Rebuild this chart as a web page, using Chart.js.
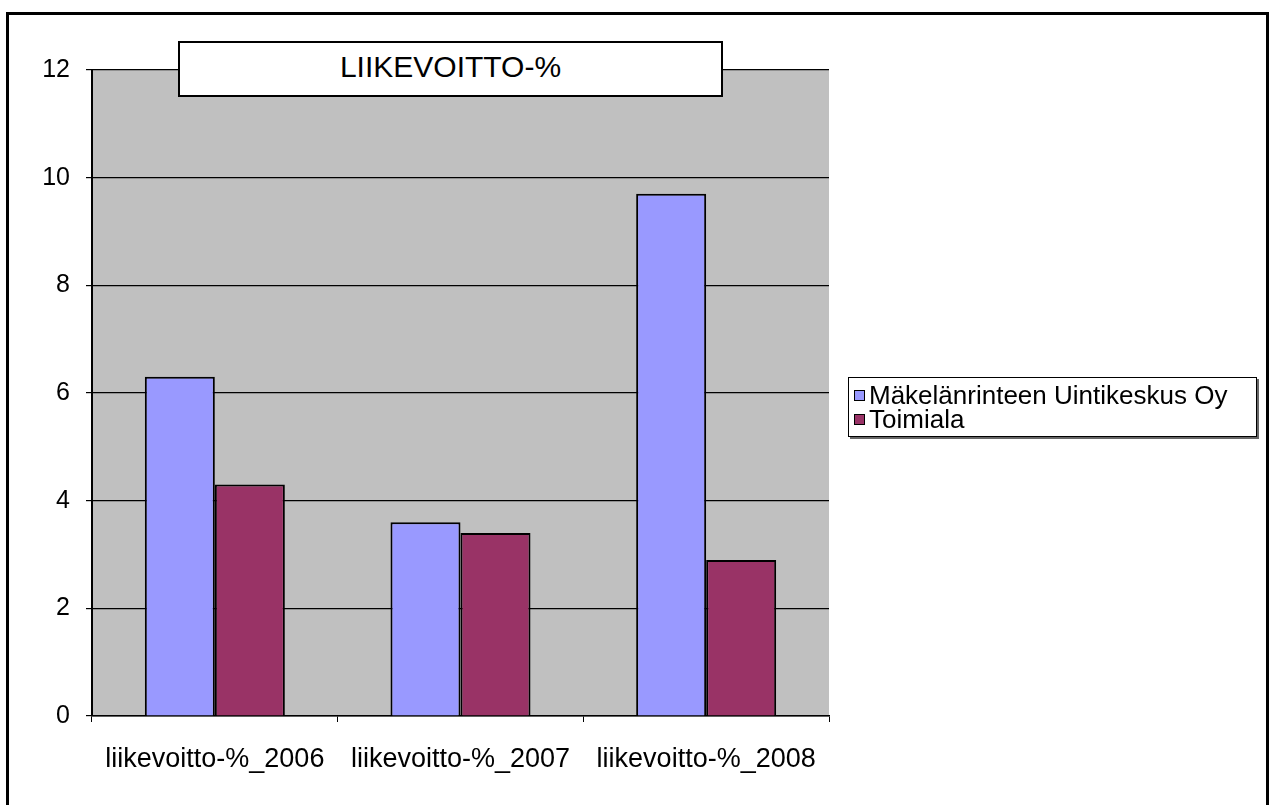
<!DOCTYPE html>
<html>
<head>
<meta charset="utf-8">
<script src="https://cdn.jsdelivr.net/npm/chart.js@4.4.1/dist/chart.umd.min.js"></script>
<style>
  html, body { margin: 0; padding: 0; background: #fff; }
  #wrap { position: relative; width: 1274px; height: 805px; overflow: hidden; font-family: Arial, "Liberation Sans", sans-serif; }
  #frame { position: absolute; left: 6px; top: 12px; width: 1263px; height: 810px; border: 3px solid #000; box-sizing: border-box; pointer-events: none; }
  #title-box { position: absolute; left: 178px; top: 41px; width: 545px; height: 56px; background: #fff; border: 2px solid #000; box-sizing: border-box;
    display: flex; align-items: center; justify-content: center; font-size: 30px; color: #000; padding-bottom: 4px; }
  #legend { position: absolute; left: 848px; top: 377px; width: 409px; height: 60px; background: #fff; border: 1px solid #000; box-shadow: 2px 2px 0 #666;
    box-sizing: border-box; padding: 5px 0 0 5px; font-size: 26px; color: #000; }
  .leg-item { display: flex; align-items: center; height: 24px; }
  .leg-sw { width: 9px; height: 9px; border: 1px solid #000; margin-right: 4px; }
  canvas { position: absolute; left: 0; top: 0; }
</style>
</head>
<body>
<div id="wrap">
  <canvas id="chart" width="1274" height="805"></canvas>
  <div id="title-box">LIIKEVOITTO-%</div>
  <div id="legend"></div>
  <div id="frame"></div>
</div>
<script>
const categories = ["liikevoitto-%_2006", "liikevoitto-%_2007", "liikevoitto-%_2008"];
const seriesNames = ["Mäkelänrinteen Uintikeskus Oy", "Toimiala"];
const companyValues = [6.3, 3.6, 9.7];
const industryValues = [4.3, 3.4, 2.9];
const yTicks = [0, 2, 4, 6, 8, 10, 12];
const colors = ["#9999FF", "#993366"];

// gray plot area like the old Excel default
const plotBg = {
  id: "plotBg",
  beforeDraw(chart) {
    const { ctx, chartArea: a } = chart;
    ctx.save();
    ctx.fillStyle = "#C0C0C0";
    ctx.fillRect(a.left, a.top, a.right - a.left, a.bottom - a.top);
    ctx.restore();
  }
};

const ctx = document.getElementById("chart").getContext("2d");
new Chart(ctx, {
  type: "bar",
  data: {
    labels: categories,
    datasets: [
      { label: seriesNames[0], data: companyValues, backgroundColor: colors[0], borderColor: "#000", borderWidth: 2 },
      { label: seriesNames[1], data: industryValues, backgroundColor: colors[1], borderColor: "#000", borderWidth: 2 }
    ]
  },
  options: {
    responsive: false,
    animation: false,
    devicePixelRatio: 1,
    datasets: { bar: { categoryPercentage: 0.57, barPercentage: 1.0 } },
    layout: { padding: { left: 0, top: 70, right: 445, bottom: 0 } },
    plugins: { legend: { display: false }, tooltip: { enabled: false }, title: { display: false } },
    scales: {
      x: {
        afterFit: s => { s.height = 89; },
        grid: { offset: true, drawOnChartArea: false, drawTicks: true, tickLength: 6, color: "#000" },
        border: { color: "#000", width: 1.5 },
        ticks: { color: "#000", font: { family: "Arial", size: 27 }, padding: 21, maxRotation: 0 }
      },
      y: {
        min: 0, max: 12,
        afterFit: s => { s.width = 92; },
        afterBuildTicks: s => { s.ticks = yTicks.map(v => ({ value: v })); },
        grid: { color: "#000", lineWidth: 1.2, drawTicks: true, tickLength: 6 },
        border: { color: "#000", width: 2 },
        ticks: { color: "#000", font: { family: "Arial", size: 25 }, padding: 16 }
      }
    }
  },
  plugins: [plotBg]
});

// legend box from the series arrays
document.getElementById("legend").innerHTML = seriesNames.map((n, i) =>
  `<div class="leg-item"><span class="leg-sw" style="background:${colors[i]}"></span>${n}</div>`
).join("");
</script>
</body>
</html>
